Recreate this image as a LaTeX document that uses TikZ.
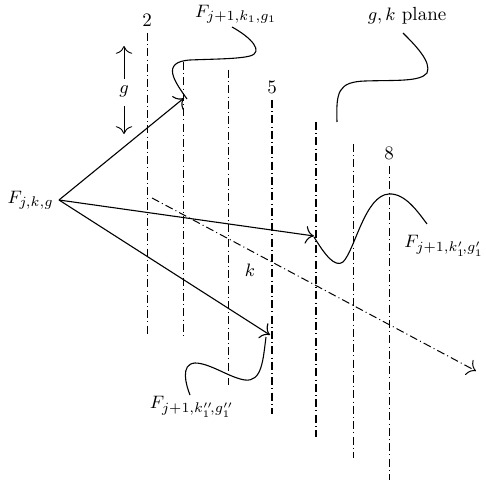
\documentclass[tikz,border=0pt]{standalone}
\usetikzlibrary{arrows.meta,calc}
\tikzset{
  plane/.style={line width=0.5pt,dash pattern=on 4pt off 1.6pt on 0.5pt off 1.6pt},
  bold plane/.style={plane,line width=0.95pt},
  jump/.style={-{To[scale=1.5]},line width=0.55pt},
  wave/.style={line width=0.55pt},
  lbl/.style={inner sep=0pt,font=\fontsize{9.5}{11}\selectfont}
}

\begin{document}
\begin{tikzpicture}[x=0.5pt,y=-0.5pt]
\useasboundingbox (0,0) rectangle (485,485);

% vertical lines x/top/bottom
\foreach \n/\x/\t/\b in {a/147/33/335,b/183/62/337,c/228/70/385,f/353/144/458,h/389/166/480}{
  \coordinate (\n t) at (\x,\t);
  \coordinate (\n b) at (\x,\b);
  \draw[plane] (\n t) -- (\n b);
}
\foreach \n/\x/\t/\b in {d/272/100/414,e/316/122/437}{
  \coordinate (\n t) at (\x,\t);
  \coordinate (\n b) at (\x,\b);
  \draw[bold plane] (\n t) -- (\n b);
}

\node[lbl] (two) at (147,20) {2};
\node[lbl] (five) at (272,87) {5};
\node[lbl] (eight) at (389,153) {8};

% g direction
\node[lbl] (g) at (124,91) {$g$};
\coordinate (gu0) at (124,79);
\coordinate (gup) at (124,46);
\coordinate (gd0) at (124,106);
\coordinate (gdown) at (124,134);
\draw[jump,line width=0.45pt] (gu0) -- (gup);
\draw[jump,line width=0.45pt] (gd0) -- (gdown);

% k direction
\coordinate (k0) at (152,198);
\coordinate (k1) at (476,371);
\draw[plane,-{To[scale=1.5]}] (k0) -- (k1);
\node[lbl] (k) at (250,270) {$k$};

% jumps
\node[lbl,anchor=east] (Fjkg) at (54,200) {$F_{j,k,g}$};
\coordinate (src) at (59,200);
\coordinate (p1) at (184,98);
\coordinate (p2) at (314,236);
\coordinate (p3) at (270,335);
\draw[jump] (src) -- (p1);
\draw[jump] (src) -- (p2);
\draw[jump] (src) -- (p3);

% labels
\node[lbl] (Fa) at (236,14) {$F_{j+1,k_1,g_1}$};
\node[lbl] (plane) at (407,16) {$g,k$ plane};
\node[lbl,anchor=east] (Fb) at (484,246) {$F_{j+1,k_1'\!,g_1'}$};
\node[lbl] (Fc) at (192,407) {$F_{j+1,k_1''\!,g_1''}$};

% curves
\draw[wave] (187,99) .. controls (175,82) and (160,62) .. (190,60)
  .. controls (215,59) and (238,59) .. (250,56)
  .. controls (264,52) and (252,38) .. (232,27);
\draw[wave] (337,122) .. controls (336,92) and (338,82) .. (365,81)
  .. controls (395,80) and (420,82) .. (427,73)
  .. controls (432,62) and (415,45) .. (403,33);
\draw[wave] (314,237) .. controls (325,255) and (335,268) .. (343,262)
  .. controls (355,250) and (365,195) .. (389,194)
  .. controls (405,193) and (418,212) .. (427,224);
\draw[wave] (266,337) .. controls (263,360) and (262,382) .. (245,380)
  .. controls (230,378) and (210,363) .. (195,363)
  .. controls (180,364) and (186,385) .. (190,395);

\end{tikzpicture}
\end{document}
